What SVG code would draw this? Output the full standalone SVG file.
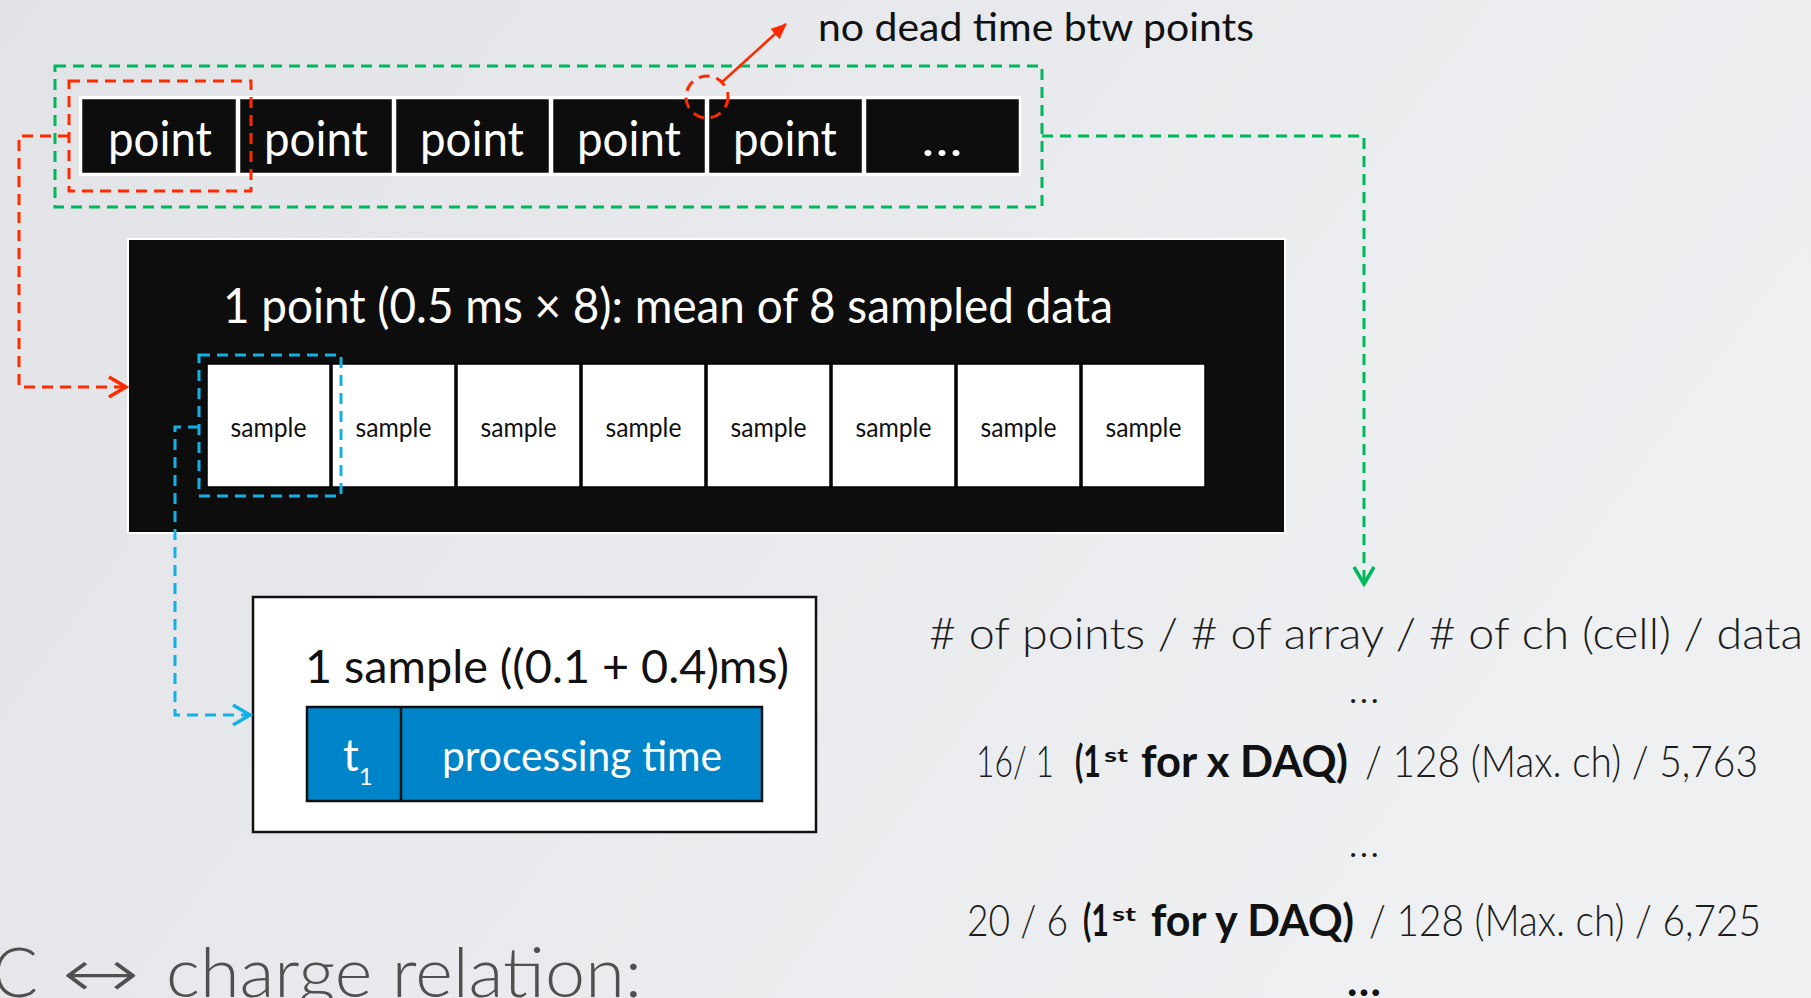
<svg xmlns="http://www.w3.org/2000/svg" width="1811" height="998" viewBox="0 0 1811 998">
<style>
.f{font-family:Lato,"Open Sans","Liberation Sans",sans-serif}
.pt{fill:#0d0d0d;stroke:#ffffff;stroke-width:2.5}
.ptx{fill:#ffffff;font-size:48px;text-anchor:middle}
.smp{fill:#ffffff;stroke:#000000;stroke-width:1.5}
.smx{fill:#111111;font-size:26px;text-anchor:middle}
.dash{fill:none;stroke-width:3;stroke-dasharray:11 7}
.g{stroke:#00b85c}
.r{stroke:#ff2a00}
.b{stroke:#10b2e6}
.lt{fill:#1c1c1c;font-weight:300;font-size:44px}
.bd{fill:#111111;font-weight:700}
.sup{fill:#111111;font-weight:700;font-size:19px}
</style>
<defs>
<linearGradient id="bg" x1="0" y1="0" x2="1" y2="0.4">
<stop offset="0" stop-color="#e1e3e7"/>
<stop offset="1" stop-color="#eef0f2"/>
</linearGradient>
<marker id="mG" viewBox="0 0 24 24" refX="21" refY="12" markerWidth="24" markerHeight="24" markerUnits="userSpaceOnUse" orient="auto">
<path d="M4,2 L21,12 L4,22" fill="none" stroke="#00b85c" stroke-width="3.5"/>
</marker>
<marker id="mR" viewBox="0 0 24 24" refX="21" refY="12" markerWidth="24" markerHeight="24" markerUnits="userSpaceOnUse" orient="auto">
<path d="M4,2 L21,12 L4,22" fill="none" stroke="#ff2a00" stroke-width="3.5"/>
</marker>
<marker id="mB" viewBox="0 0 24 24" refX="21" refY="12" markerWidth="24" markerHeight="24" markerUnits="userSpaceOnUse" orient="auto">
<path d="M4,2 L21,12 L4,22" fill="none" stroke="#10b2e6" stroke-width="3.5"/>
</marker>
<marker id="mRf" viewBox="0 0 16 14" refX="15" refY="7" markerWidth="16" markerHeight="14" markerUnits="userSpaceOnUse" orient="auto">
<path d="M0,0 L16,7 L0,14 Z" fill="#ff2a00"/>
</marker>
</defs>
<rect x="0" y="0" width="1811" height="998" fill="url(#bg)"/>

<g id="note" class="f">
<text x="818" y="41" font-size="38" fill="#111111" textLength="436" lengthAdjust="spacingAndGlyphs">no dead time btw points</text>
</g>

<g id="points" class="f">
<rect x="79" y="96" width="942" height="80" fill="#ffffff"/>
<rect class="pt" x="81" y="98" width="156" height="76"/>
<rect class="pt" x="239" y="98" width="154" height="76"/>
<rect class="pt" x="395" y="98" width="155" height="76"/>
<rect class="pt" x="552" y="98" width="154" height="76"/>
<rect class="pt" x="708" y="98" width="155" height="76"/>
<rect class="pt" x="865" y="98" width="155" height="76"/>
<text class="ptx" x="160" y="156" textLength="104" lengthAdjust="spacingAndGlyphs">point</text>
<text class="ptx" x="316" y="156" textLength="104" lengthAdjust="spacingAndGlyphs">point</text>
<text class="ptx" x="472" y="156" textLength="104" lengthAdjust="spacingAndGlyphs">point</text>
<text class="ptx" x="629" y="156" textLength="104" lengthAdjust="spacingAndGlyphs">point</text>
<text class="ptx" x="785" y="156" textLength="104" lengthAdjust="spacingAndGlyphs">point</text>
<text class="ptx" x="942" y="156" textLength="41" lengthAdjust="spacingAndGlyphs">…</text>
</g>

<g id="green-group">
<rect class="dash g" x="55" y="66" width="987" height="141"/>
</g>
<g id="red-group">
<rect class="dash r" x="69" y="81" width="182" height="110"/>
</g>
<g id="junction">
<circle class="dash r" cx="707" cy="97" r="21" stroke-dasharray="12 8"/>
</g>

<g id="point-detail" class="f">
<rect x="128" y="239" width="1157" height="294" fill="#0d0d0d" stroke="#ffffff" stroke-width="2"/>
<text x="223" y="323" font-size="48" fill="#ffffff" textLength="890" lengthAdjust="spacingAndGlyphs">1 point (0.5 ms × 8): mean of 8 sampled data</text>
<rect class="smp" x="207" y="364" width="123" height="123"/>
<rect class="smp" x="332" y="364" width="123" height="123"/>
<rect class="smp" x="457" y="364" width="123" height="123"/>
<rect class="smp" x="582" y="364" width="123" height="123"/>
<rect class="smp" x="707" y="364" width="123" height="123"/>
<rect class="smp" x="832" y="364" width="123" height="123"/>
<rect class="smp" x="957" y="364" width="123" height="123"/>
<rect class="smp" x="1082" y="364" width="123" height="123"/>
<text class="smx" x="268.5" y="437" textLength="76" lengthAdjust="spacingAndGlyphs">sample</text>
<text class="smx" x="393.5" y="437" textLength="76" lengthAdjust="spacingAndGlyphs">sample</text>
<text class="smx" x="518.5" y="437" textLength="76" lengthAdjust="spacingAndGlyphs">sample</text>
<text class="smx" x="643.5" y="437" textLength="76" lengthAdjust="spacingAndGlyphs">sample</text>
<text class="smx" x="768.5" y="437" textLength="76" lengthAdjust="spacingAndGlyphs">sample</text>
<text class="smx" x="893.5" y="437" textLength="76" lengthAdjust="spacingAndGlyphs">sample</text>
<text class="smx" x="1018.5" y="437" textLength="76" lengthAdjust="spacingAndGlyphs">sample</text>
<text class="smx" x="1143.5" y="437" textLength="76" lengthAdjust="spacingAndGlyphs">sample</text>
</g>

<g id="blue-group">
<rect class="dash b" x="199" y="355" width="142" height="141"/>
</g>

<g id="sample-detail" class="f">
<rect x="253" y="597" width="563" height="235" fill="#ffffff" stroke="#111111" stroke-width="2.5"/>
<text x="305" y="683" font-size="46" fill="#111111" textLength="484" lengthAdjust="spacingAndGlyphs">1 sample ((0.1 + 0.4)ms)</text>
<rect x="307" y="707" width="455" height="94" fill="#0084c9" stroke="#111111" stroke-width="2.5"/>
<line x1="401" y1="707" x2="401" y2="801" stroke="#111111" stroke-width="2.5"/>
<text x="343" y="771" font-size="44" fill="#ffffff">t<tspan font-size="24" dy="14">1</tspan></text>
<text x="442" y="771" font-size="42" fill="#ffffff" textLength="280" lengthAdjust="spacingAndGlyphs">processing time</text>
</g>

<g id="data-format" class="f">
<text class="lt" x="929" y="649" textLength="874" lengthAdjust="spacingAndGlyphs"># of points / # of array / # of ch (cell) / data</text>
<text class="lt" x="1364" y="703" text-anchor="middle">…</text>
<text class="lt" y="777"><tspan x="976" textLength="78" lengthAdjust="spacingAndGlyphs">16/ 1</tspan><tspan class="bd" x="1075" textLength="26" lengthAdjust="spacingAndGlyphs">(1</tspan><tspan class="sup" x="1104" dy="-15" textLength="24" lengthAdjust="spacingAndGlyphs">st</tspan><tspan class="bd" x="1141" dy="15" textLength="207" lengthAdjust="spacingAndGlyphs">for x DAQ)</tspan><tspan x="1365" textLength="393" lengthAdjust="spacingAndGlyphs">/ 128 (Max. ch) / 5,763</tspan></text>
<text class="lt" x="1364" y="857" text-anchor="middle">…</text>
<text class="lt" y="936"><tspan x="967" textLength="101" lengthAdjust="spacingAndGlyphs">20 / 6</tspan><tspan class="bd" x="1083" textLength="26" lengthAdjust="spacingAndGlyphs">(1</tspan><tspan class="sup" x="1112" dy="-15" textLength="24" lengthAdjust="spacingAndGlyphs">st</tspan><tspan class="bd" x="1151" dy="15" textLength="203" lengthAdjust="spacingAndGlyphs">for y DAQ)</tspan><tspan x="1369" textLength="392" lengthAdjust="spacingAndGlyphs">/ 128 (Max. ch) / 6,725</tspan></text>
<text class="lt bd" x="1364" y="996" text-anchor="middle">…</text>
</g>

<g id="heading" class="f" font-size="68" font-weight="300" fill="#505050">
<text y="997"><tspan x="-8">C</tspan><tspan x="62" font-family="'DejaVu Sans',sans-serif" textLength="78" lengthAdjust="spacingAndGlyphs">↔</tspan><tspan x="166" textLength="476" lengthAdjust="spacingAndGlyphs">charge relation:</tspan></text>
</g>

<g id="connectors">
<path class="dash g" d="M1042,136 H1364 V584" marker-end="url(#mG)"/>
<path class="dash r" d="M69,136 H19 V387 H126" marker-end="url(#mR)"/>
<path class="dash b" d="M199,427 H175 V715 H250" marker-end="url(#mB)"/>
<line x1="721" y1="83" x2="786" y2="24" stroke="#ff2a00" stroke-width="2.5" marker-end="url(#mRf)"/>
</g>
</svg>
